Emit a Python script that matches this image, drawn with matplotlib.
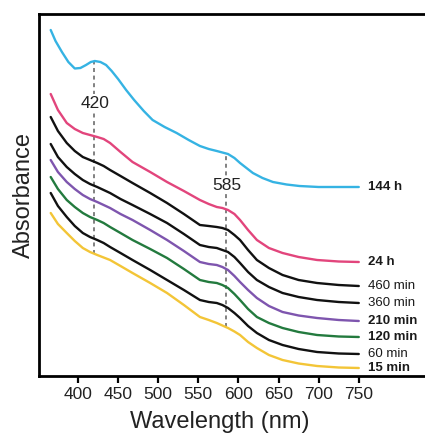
import numpy as np
import matplotlib
matplotlib.use("Agg")
import matplotlib.pyplot as plt

plt.rcParams['font.family'] = ['Liberation Sans', 'DejaVu Sans']

# Wavelength grids (nm)
wl_144h = [366, 372, 380, 388, 396, 403, 410, 416, 421, 428, 435, 442, 450, 460, 470, 482,
           493, 508, 523, 538, 552, 563, 573, 580, 587, 595, 602, 610, 618, 630, 643, 660,
           676, 700, 725, 750]
wl = [366, 375, 386, 396, 406, 415, 424, 432, 440, 453, 468, 490, 511, 532, 552, 563, 573,
      580, 587, 595, 602, 612, 623, 638, 655, 675, 698, 725, 750]

# Absorbance (arbitrary units, offset curves)
abs_144h = [3.46, 3.35, 3.24, 3.14, 3.075, 3.08, 3.11, 3.14, 3.15, 3.14, 3.11, 3.05, 2.97,
            2.86, 2.76, 2.65, 2.56, 2.49, 2.43, 2.36, 2.30, 2.27, 2.25, 2.235, 2.22, 2.18,
            2.13, 2.08, 2.03, 1.98, 1.94, 1.915, 1.90, 1.89, 1.89, 1.89]
abs_24h = [2.82, 2.66, 2.53, 2.47, 2.43, 2.41, 2.39, 2.37, 2.33, 2.24, 2.14, 2.04, 1.94, 1.85,
           1.76, 1.72, 1.69, 1.68, 1.66, 1.62, 1.56, 1.46, 1.36, 1.28, 1.23, 1.19, 1.16,
           1.145, 1.14]
abs_460 = [2.59, 2.45, 2.33, 2.25, 2.19, 2.16, 2.13, 2.10, 2.06, 2.00, 1.93, 1.83, 1.73, 1.62,
           1.51, 1.50, 1.49, 1.48, 1.46, 1.41, 1.36, 1.26, 1.16, 1.08, 1.01, 0.96, 0.93,
           0.91, 0.90]
abs_360 = [2.32, 2.19, 2.09, 2.02, 1.96, 1.92, 1.89, 1.86, 1.83, 1.77, 1.71, 1.62, 1.53, 1.42,
           1.31, 1.29, 1.28, 1.26, 1.24, 1.19, 1.13, 1.04, 0.96, 0.89, 0.83, 0.79, 0.76,
           0.74, 0.73]
abs_210 = [2.16, 2.04, 1.94, 1.87, 1.81, 1.77, 1.74, 1.71, 1.68, 1.62, 1.56, 1.46, 1.36, 1.25,
           1.14, 1.12, 1.11, 1.09, 1.06, 1.00, 0.94, 0.86, 0.78, 0.70, 0.64, 0.605, 0.58,
           0.56, 0.55]
abs_120 = [1.99, 1.87, 1.76, 1.69, 1.63, 1.59, 1.56, 1.53, 1.49, 1.43, 1.36, 1.27, 1.18, 1.07,
           0.96, 0.94, 0.93, 0.91, 0.88, 0.82, 0.76, 0.67, 0.59, 0.53, 0.48, 0.44, 0.41,
           0.395, 0.39]
abs_60 = [1.83, 1.70, 1.59, 1.50, 1.43, 1.39, 1.36, 1.33, 1.29, 1.23, 1.16, 1.06, 0.96, 0.86,
          0.76, 0.74, 0.73, 0.71, 0.68, 0.63, 0.58, 0.50, 0.43, 0.36, 0.31, 0.27, 0.24,
          0.225, 0.22]
abs_15 = [1.63, 1.52, 1.43, 1.35, 1.28, 1.24, 1.21, 1.185, 1.16, 1.10, 1.03, 0.93, 0.83, 0.71,
          0.59, 0.56, 0.53, 0.505, 0.48, 0.445, 0.41, 0.34, 0.28, 0.21, 0.16, 0.125, 0.10,
          0.085, 0.08]

labels = ['144 h', '24 h', '460 min', '360 min', '210 min', '120 min', '60 min', '15 min']
bold = [True, True, False, False, True, True, False, True]
colors = ['#35B3E3', '#E2457C', '#111111', '#111111', '#7E55AE', '#237A3E', '#111111', '#F3C537']

peaks = [420, 585]
peak_label_y = [2.73, 1.91]
xticks = [400, 450, 500, 550, 600, 650, 700, 750]

series = [(wl_144h, abs_144h)] + [(wl, a) for a in
                                  [abs_24h, abs_460, abs_360, abs_210, abs_120, abs_60, abs_15]]

fig = plt.figure(figsize=(4.25, 4.37), dpi=100)
ax = fig.add_axes([39 / 425, (437 - 376) / 437, 400 / 425, 362 / 437])

for (x, y), c in zip(series, colors):
    ax.plot(x, y, color=c, lw=1.7, solid_joinstyle='round', solid_capstyle='round', zorder=3)

for (x, y), lab, b in zip(series, labels, bold):
    ax.text(761, y[-1], lab, fontsize=9.5, fontweight='bold' if b else 'normal',
            va='center', ha='left', color='#1a1a1a', zorder=4)

# Peak markers
for p, ly in zip(peaks, peak_label_y):
    top = np.interp(p, wl_144h, abs_144h)
    bot = np.interp(p, wl, abs_15)
    ax.vlines(p, bot, top, colors='#777777', linestyles=(0, (2.2, 2.0)), lw=1.3, zorder=2)
    ax.text(p + 1, ly, str(p), fontsize=12.5, ha='center', va='center', color='#222222',
            bbox=dict(facecolor='white', edgecolor='none', pad=1.0), zorder=5)

ax.set_xlim(351.4, 850)
ax.set_ylim(0, 3.62)
ax.set_xticks(xticks)
ax.set_xticklabels([str(t) for t in xticks], fontsize=12.5, color='#222222')
ax.set_yticks([])
ax.tick_params(axis='x', direction='out', length=5, width=1.6, pad=3)
for s in ['left', 'top', 'bottom']:
    ax.spines[s].set_linewidth(2.0)
ax.spines['right'].set_visible(False)

ax.set_xlabel('Wavelength (nm)', fontsize=17, color='#222222')
ax.set_ylabel('Absorbance', fontsize=17, color='#222222')
ax.xaxis.set_label_coords(181 / 400, -35 / 362)
ax.yaxis.set_label_coords(-4 / 400, 0.5)

fig.savefig('out.png', dpi=100)
